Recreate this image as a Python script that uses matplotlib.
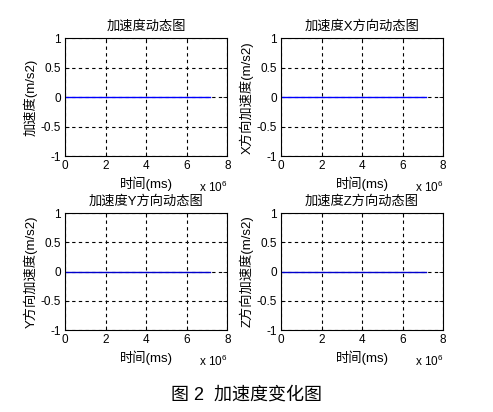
import matplotlib
matplotlib.use("Agg")
import matplotlib.pyplot as plt

plt.rcParams['font.family'] = ['Liberation Sans', 'Noto Sans CJK SC', 'DejaVu Sans']
plt.rcParams['mathtext.fontset'] = 'custom'
plt.rcParams['mathtext.rm'] = 'Liberation Sans'
plt.rcParams['axes.unicode_minus'] = False

# time (ms) and acceleration values (all zero)
t = [0, 7.15e6]
acc = [0, 0]
acc_x = [0, 0]
acc_y = [0, 0]
acc_z = [0, 0]

titles = ["加速度动态图", "加速度X方向动态图", "加速度Y方向动态图", "加速度Z方向动态图"]
ylabels = ["加速度(m/s2)", "X方向加速度(m/s2)", "Y方向加速度(m/s2)", "Z方向加速度(m/s2)"]
series = [acc, acc_x, acc_y, acc_z]
colors = ["#0000ff", "#0000ff", "#0000cc", "#0000cc"]
xticks = [0, 2e6, 4e6, 6e6, 8e6]
xticklabels = ["0", "2", "4", "6", "8"]
yticks = [-1, -0.5, 0, 0.5, 1]
yticklabels = ["-1", "-0.5", "0", "0.5", "1"]

fig = plt.figure(figsize=(4.93, 4.12), dpi=100)
positions = [
    [0.132, 0.621, 0.329, 0.286],
    [0.570, 0.621, 0.329, 0.286],
    [0.132, 0.199, 0.329, 0.284],
    [0.570, 0.199, 0.329, 0.284],
]

for pos, title, ylab, y, c in zip(positions, titles, ylabels, series, colors):
    ax = fig.add_axes(pos)
    ax.plot(t, y, color=c, linewidth=1.0)
    ax.set_xlim(0, 8e6)
    ax.set_ylim(-1, 1)
    ax.set_xticks(xticks)
    ax.set_xticklabels(xticklabels)
    ax.set_yticks(yticks)
    ax.set_yticklabels(yticklabels)
    ax.grid(True, color="black", linestyle=(0, (3, 3)), linewidth=0.8)
    ax.tick_params(direction="in", length=3, width=0.6, labelsize=8.5, pad=3,
                   top=True, right=True)
    for s in ax.spines.values():
        s.set_linewidth(0.8)
    ax.set_title(title, fontsize=9.5, pad=6)
    ax.set_xlabel("时间(ms)", fontsize=9.5, labelpad=3)
    ax.set_ylabel(ylab, fontsize=9.5, labelpad=2)
    ax.text(1.0, -0.20, "x 10$^{6}$", transform=ax.transAxes,
            ha="right", va="top", fontsize=8.5)

fig.text(0.5, 0.04, "图 2  加速度变化图", ha="center", va="center", fontsize=13)

fig.savefig("out.png", dpi=100)
